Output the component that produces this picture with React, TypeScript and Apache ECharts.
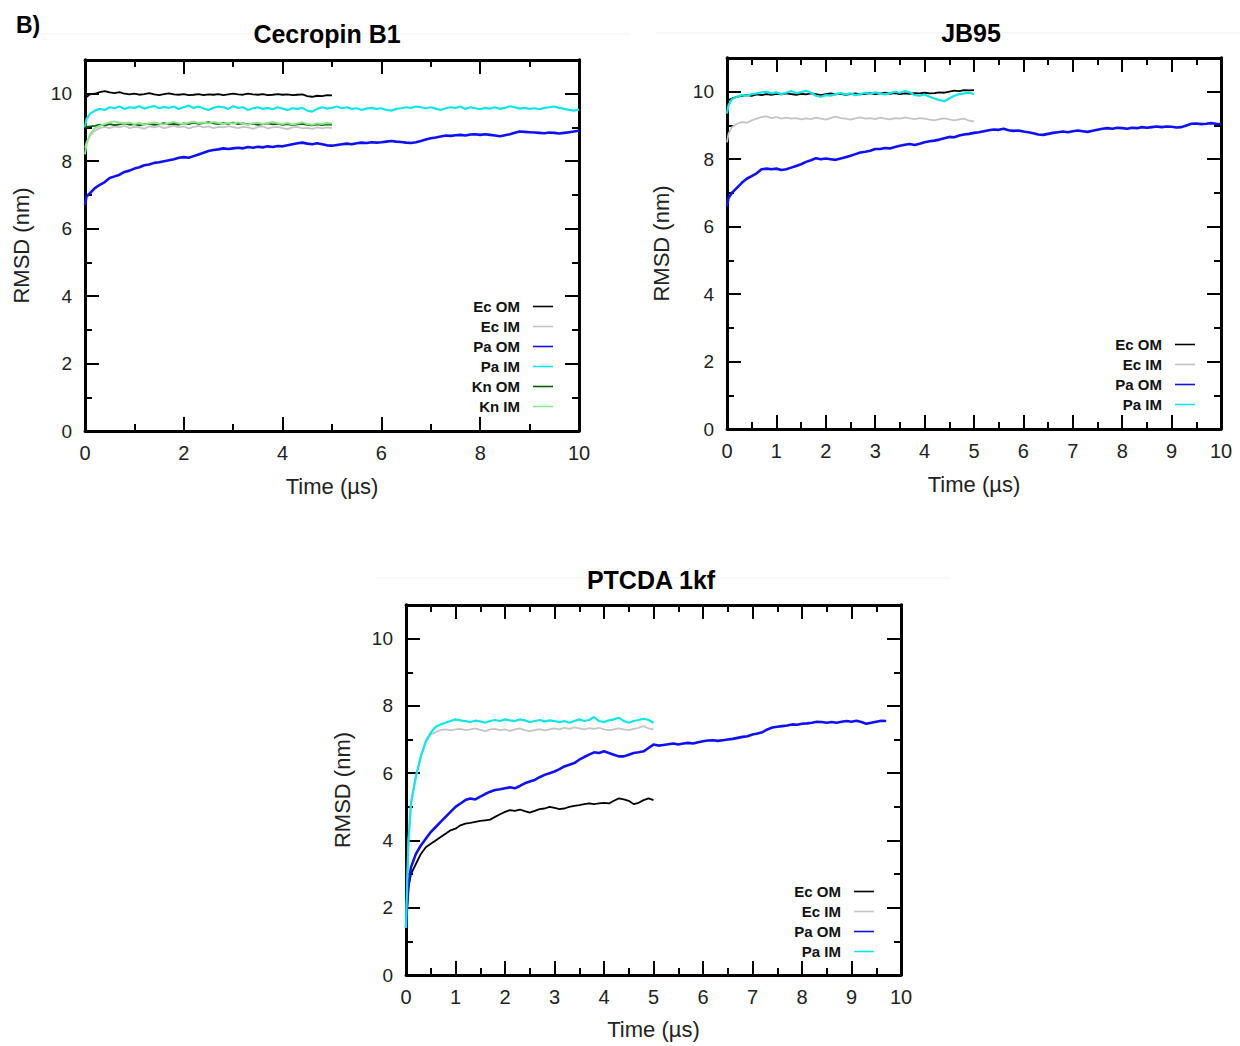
import React, { useEffect, useRef } from 'react';
import * as echarts from 'echarts';

const FONT = '"Liberation Sans", Arial, Helvetica, sans-serif';
const STEP = 0.1;

const SERIES_NAMES = ['Ec OM', 'Ec IM', 'Pa OM', 'Pa IM', 'Kn OM', 'Kn IM'];
const PANEL_TITLES = ['Cecropin B1', 'JB95', 'PTCDA 1kf'];
const X_AXIS_NAME = 'Time (µs)';
const Y_AXIS_NAME = 'RMSD (nm)';
const X_MAJOR_INTERVAL = [2, 1, 1];

// ---------- Cecropin B1 (values on a 0.1 µs grid from t = 0) ----------
const CEC_EC_OM_EARLY = [[0.03, 9.9]];
const CEC_EC_OM = [
  9.75, 9.98, 10.0, 10.05, 10.08, 10.04, 10.02, 10.05, 10.0, 9.98,
  10.0, 9.97, 9.99, 10.02, 9.98, 9.96, 9.99, 10.01, 9.98, 9.97,
  9.99, 9.96, 9.97, 9.99, 9.96, 9.98, 9.97, 9.99, 9.96, 9.98,
  10.0, 9.98, 9.97, 10.0, 9.98, 9.97, 9.99, 9.96, 9.97, 9.99,
  9.97, 9.98, 9.96, 9.97, 9.98, 9.93, 9.91, 9.94, 9.93, 9.96,
  9.95,
];
const CEC_EC_IM_EARLY = [[0.03, 8.55]];
const CEC_EC_IM = [
  8.4, 8.75, 8.9, 8.98, 9.02, 8.98, 9.03, 9.0, 9.05, 8.98,
  9.02, 9.0, 8.96, 9.03, 9.0, 9.04, 8.98, 9.02, 9.05, 9.0,
  9.03, 8.97, 9.02, 9.05, 9.0, 9.03, 8.98, 9.02, 9.0, 9.04,
  9.01, 8.98, 9.02, 9.0, 8.96, 9.01, 9.03, 8.97, 9.0, 9.02,
  8.98, 8.95, 9.0, 9.02, 8.97, 8.99, 8.96, 9.0, 8.97, 9.0,
  8.98,
];
const CEC_PA_OM_EARLY = [[0.03, 6.95]];
const CEC_PA_OM = [
  6.7, 7.05, 7.2, 7.3, 7.38, 7.5, 7.55, 7.6, 7.68, 7.72,
  7.78, 7.82, 7.88, 7.9, 7.95, 7.97, 8.0, 8.03, 8.06, 8.1,
  8.12, 8.1, 8.15, 8.2, 8.25, 8.3, 8.33, 8.35, 8.38, 8.36,
  8.38, 8.4, 8.38, 8.42, 8.4, 8.43, 8.41, 8.44, 8.42, 8.45,
  8.44, 8.47, 8.5, 8.53, 8.55, 8.52, 8.5, 8.53, 8.5, 8.47,
  8.46, 8.48, 8.5, 8.52, 8.5, 8.53, 8.55, 8.54, 8.56, 8.55,
  8.56, 8.58, 8.6, 8.58, 8.57, 8.55, 8.54, 8.56, 8.6, 8.64,
  8.68, 8.7, 8.73, 8.76, 8.75, 8.77, 8.78, 8.76, 8.79, 8.8,
  8.78, 8.8, 8.78, 8.76, 8.74, 8.77, 8.8, 8.84, 8.88, 8.87,
  8.86, 8.85, 8.84, 8.83, 8.85, 8.84, 8.82, 8.84, 8.86, 8.88,
  8.9,
];
const CEC_PA_IM_EARLY = [[0.03, 9.25]];
const CEC_PA_IM = [
  9.0, 9.4, 9.5, 9.55, 9.52, 9.6, 9.57, 9.62, 9.55, 9.6,
  9.58, 9.63, 9.56, 9.6, 9.64, 9.57, 9.61, 9.58, 9.62, 9.55,
  9.6, 9.65, 9.58, 9.62, 9.56, 9.52, 9.58, 9.62, 9.6, 9.55,
  9.63, 9.58, 9.6, 9.52, 9.57, 9.6, 9.55, 9.58, 9.54, 9.6,
  9.56, 9.52, 9.57, 9.55, 9.58, 9.5, 9.47, 9.55, 9.6, 9.56,
  9.58, 9.62, 9.57, 9.6, 9.55, 9.57, 9.52, 9.56, 9.58, 9.55,
  9.57, 9.52, 9.5, 9.55, 9.57, 9.6, 9.58, 9.62, 9.6, 9.57,
  9.6, 9.56, 9.52, 9.57, 9.6, 9.58, 9.62, 9.55, 9.6, 9.57,
  9.54, 9.58, 9.56, 9.6, 9.55, 9.58, 9.63, 9.6, 9.56, 9.58,
  9.55, 9.57, 9.54, 9.58, 9.6, 9.62, 9.58, 9.55, 9.52, 9.5,
  9.53,
];
const CEC_KN_OM_EARLY = [[0.03, 9.02]];
const CEC_KN_OM = [
  9.0, 9.03, 9.05, 9.08, 9.06, 9.1, 9.07, 9.09, 9.12, 9.08,
  9.1, 9.06, 9.09, 9.11, 9.08, 9.1, 9.13, 9.09, 9.11, 9.08,
  9.12, 9.1, 9.14, 9.11, 9.13, 9.16, 9.12, 9.1, 9.13, 9.11,
  9.14, 9.1, 9.12, 9.09, 9.11, 9.08, 9.1, 9.12, 9.09, 9.11,
  9.08, 9.1, 9.07, 9.09, 9.11, 9.08, 9.06, 9.09, 9.07, 9.09,
  9.08,
];
const CEC_KN_IM_EARLY = [[0.03, 8.5]];
const CEC_KN_IM = [
  8.2, 8.8, 8.98, 9.05, 9.1, 9.15, 9.18, 9.14, 9.12, 9.15,
  9.1, 9.13, 9.08, 9.12, 9.15, 9.11, 9.09, 9.13, 9.16, 9.12,
  9.1, 9.14, 9.17, 9.13, 9.15, 9.12, 9.16, 9.13, 9.1, 9.14,
  9.12, 9.15, 9.11, 9.08, 9.12, 9.14, 9.1, 9.13, 9.16, 9.12,
  9.1, 9.13, 9.09, 9.12, 9.15, 9.1, 9.08, 9.12, 9.1, 9.13,
  9.12,
];

// ---------- JB95 ----------
const JB_EC_OM_EARLY = [[0.03, 9.75]];
const JB_EC_OM = [
  9.65, 9.8, 9.85, 9.88, 9.9, 9.88, 9.92, 9.9, 9.93, 9.91,
  9.94, 9.92, 9.95, 9.93, 9.91, 9.94, 9.92, 9.95, 9.93, 9.9,
  9.93, 9.95, 9.92, 9.94, 9.91, 9.93, 9.95, 9.92, 9.94, 9.96,
  9.93, 9.95, 9.97, 9.94, 9.96, 9.93, 9.95, 9.94, 9.96, 9.95,
  9.97, 9.95, 9.96, 9.98, 9.97, 10.0, 10.03, 10.02, 10.05, 10.04,
  10.05,
];
const JB_EC_IM_EARLY = [[0.03, 8.75]];
const JB_EC_IM = [
  8.5, 8.95, 9.05, 9.1, 9.08, 9.15, 9.2, 9.25, 9.27, 9.22,
  9.25, 9.2, 9.23, 9.2, 9.22, 9.18, 9.21, 9.19, 9.23, 9.2,
  9.17, 9.22, 9.26, 9.22, 9.2, 9.17, 9.21, 9.24, 9.2, 9.22,
  9.19, 9.23, 9.2, 9.18, 9.22, 9.2, 9.24, 9.21, 9.19, 9.22,
  9.2, 9.17, 9.15, 9.19, 9.21, 9.18, 9.15, 9.18, 9.2, 9.14,
  9.12,
];
const JB_PA_OM_EARLY = [[0.03, 6.85]];
const JB_PA_OM = [
  6.6, 7.0, 7.15, 7.3, 7.42, 7.5, 7.58, 7.7, 7.72, 7.7,
  7.72, 7.68, 7.7, 7.75, 7.8, 7.85, 7.92, 7.97, 8.03, 8.0,
  8.02, 8.0, 7.98, 8.02, 8.06, 8.1, 8.15, 8.2, 8.22, 8.25,
  8.3, 8.3, 8.33, 8.32, 8.36, 8.4, 8.43, 8.45, 8.42, 8.46,
  8.5, 8.53, 8.55, 8.58, 8.62, 8.66, 8.65, 8.7, 8.73, 8.75,
  8.78, 8.8, 8.83, 8.86, 8.88, 8.87, 8.9, 8.86, 8.84, 8.85,
  8.82, 8.8, 8.77, 8.73, 8.72, 8.75, 8.78, 8.8, 8.82, 8.8,
  8.83, 8.85, 8.83, 8.81, 8.84, 8.87, 8.9, 8.92, 8.9, 8.93,
  8.92, 8.9, 8.93, 8.92, 8.95, 8.93, 8.95, 8.97, 8.95, 8.97,
  8.96, 8.94, 8.95, 9.0, 9.05, 9.06, 9.04, 9.05, 9.07, 9.05,
  9.04,
];
const JB_PA_IM_EARLY = [[0.03, 9.6]];
const JB_PA_IM = [
  9.35, 9.78, 9.85, 9.9, 9.88, 9.93, 9.95, 9.98, 10.0, 9.95,
  9.98, 9.93, 9.97, 10.02, 9.96, 9.99, 10.03, 9.97, 9.88, 9.85,
  9.9, 9.88, 9.93, 9.96, 9.92, 9.95, 9.9, 9.93, 9.97, 9.94,
  9.98, 9.95, 9.92, 9.96, 10.0, 9.97, 10.02, 9.98, 9.9, 9.88,
  9.92, 9.85, 9.8, 9.75, 9.72, 9.8, 9.88, 9.93, 9.95, 9.97,
  9.93,
];

// ---------- PTCDA 1kf ----------
const PT_EC_OM_EARLY = [[0.02, 2.0], [0.05, 2.6]];
const PT_EC_OM = [
  1.5, 3.0, 3.3, 3.6, 3.8, 3.9, 4.0, 4.1, 4.2, 4.3,
  4.35, 4.45, 4.5, 4.52, 4.55, 4.58, 4.6, 4.62, 4.7, 4.78,
  4.85, 4.9, 4.88, 4.92, 4.87, 4.83, 4.88, 4.93, 4.95, 5.0,
  4.97, 4.93, 4.95, 5.0, 5.03, 5.05, 5.08, 5.1, 5.08, 5.1,
  5.12, 5.1, 5.18, 5.25, 5.22, 5.18, 5.08, 5.12, 5.2, 5.25,
  5.2,
];
const PT_EC_IM_EARLY = [[0.02, 2.5], [0.05, 4.0]];
const PT_EC_IM = [
  1.5, 5.1, 5.9, 6.5, 6.92, 7.15, 7.22, 7.28, 7.3, 7.27,
  7.3, 7.32, 7.28, 7.3, 7.33, 7.29, 7.25, 7.3, 7.32, 7.28,
  7.3, 7.26, 7.3, 7.33, 7.28, 7.25, 7.28, 7.31, 7.27, 7.3,
  7.33, 7.3, 7.35, 7.32, 7.36, 7.33, 7.3, 7.34, 7.32, 7.35,
  7.3, 7.27, 7.3, 7.33, 7.3, 7.28, 7.32, 7.35, 7.4, 7.33,
  7.3,
];
const PT_PA_OM_EARLY = [[0.02, 2.0], [0.05, 2.7]];
const PT_PA_OM = [
  1.4, 3.2, 3.6, 3.85, 4.05, 4.25, 4.4, 4.55, 4.7, 4.85,
  5.0, 5.1, 5.2, 5.25, 5.22, 5.3, 5.38, 5.45, 5.5, 5.52,
  5.55, 5.58, 5.55, 5.62, 5.7, 5.75, 5.8, 5.88, 5.95, 6.0,
  6.05, 6.12, 6.2, 6.25, 6.3, 6.4, 6.48, 6.55, 6.62, 6.6,
  6.65, 6.6, 6.55, 6.5, 6.5, 6.55, 6.6, 6.62, 6.65, 6.75,
  6.85, 6.82, 6.84, 6.86, 6.88, 6.85, 6.88, 6.9, 6.88, 6.92,
  6.95, 6.97, 6.98, 6.96, 6.98, 7.0, 7.02, 7.05, 7.08, 7.1,
  7.15, 7.18, 7.22, 7.3, 7.36, 7.38, 7.4, 7.42, 7.45, 7.44,
  7.47, 7.48, 7.5, 7.53, 7.52, 7.5, 7.52, 7.5, 7.53, 7.55,
  7.53, 7.56, 7.52, 7.47, 7.5, 7.53, 7.56, 7.55,
];
const PT_PA_IM_EARLY = [[0.02, 2.5], [0.05, 4.0]];
const PT_PA_IM = [
  1.4, 5.1, 5.9, 6.5, 6.95, 7.2, 7.38, 7.45, 7.5, 7.55,
  7.6, 7.57, 7.55, 7.52, 7.56, 7.54, 7.5, 7.55, 7.58, 7.55,
  7.6, 7.57, 7.55, 7.6, 7.57, 7.52, 7.55, 7.58, 7.54, 7.57,
  7.55, 7.52, 7.55, 7.5, 7.55, 7.6, 7.55, 7.58, 7.67, 7.55,
  7.52, 7.57, 7.6, 7.65, 7.55, 7.5, 7.55, 7.58, 7.62, 7.58,
  7.5,
];

const COLORS: Record<string, string> = {
  'Ec OM': '#000000',
  'Ec IM': '#c4c4c4',
  'Pa OM': '#1010f5',
  'Pa IM': '#10e6e6',
  'Kn OM': '#0a5c0a',
  'Kn IM': '#8ee68e',
};
const WIDTHS: Record<string, number> = {
  'Ec OM': 1.8, 'Ec IM': 1.8, 'Pa OM': 2.6, 'Pa IM': 2.2, 'Kn OM': 1.8, 'Kn IM': 2,
};

function toPoints(early: number[][], vals: number[]): number[][] {
  const out: number[][] = [[0, vals[0]]];
  early.forEach((p) => out.push(p));
  for (let i = 1; i < vals.length; i++) out.push([Math.round(i * STEP * 100) / 100, vals[i]]);
  return out;
}

const PANELS = [
  {
    grid: { left: 85, top: 60, width: 494, height: 371 },
    titleX: 327, titleY: 34, yNameGap: 53, xNameGap: 44,
    legendRight: 687, legendTop: 299,
    data: [
      [CEC_EC_OM_EARLY, CEC_EC_OM], [CEC_EC_IM_EARLY, CEC_EC_IM], [CEC_PA_OM_EARLY, CEC_PA_OM],
      [CEC_PA_IM_EARLY, CEC_PA_IM], [CEC_KN_OM_EARLY, CEC_KN_OM], [CEC_KN_IM_EARLY, CEC_KN_IM],
    ],
    order: [0, 1, 2, 3, 5, 4],
  },
  {
    grid: { left: 727, top: 58, width: 494, height: 371 },
    titleX: 971, titleY: 33, yNameGap: 55, xNameGap: 44,
    legendRight: 45, legendTop: 337,
    data: [
      [JB_EC_OM_EARLY, JB_EC_OM], [JB_EC_IM_EARLY, JB_EC_IM], [JB_PA_OM_EARLY, JB_PA_OM],
      [JB_PA_IM_EARLY, JB_PA_IM],
    ],
    order: [1, 2, 0, 3],
  },
  {
    grid: { left: 406, top: 605, width: 495, height: 370 },
    titleX: 651, titleY: 580, yNameGap: 53, xNameGap: 43,
    legendRight: 366, legendTop: 884,
    data: [
      [PT_EC_OM_EARLY, PT_EC_OM], [PT_EC_IM_EARLY, PT_EC_IM], [PT_PA_OM_EARLY, PT_PA_OM],
      [PT_PA_IM_EARLY, PT_PA_IM],
    ],
    order: [0, 2, 1, 3],
  },
];

function buildOption() {
  const grid: any[] = [];
  const xAxis: any[] = [];
  const yAxis: any[] = [];
  const series: any[] = [];
  const legend: any[] = [];
  const graphic: any[] = [];
  const lineStyle = { color: '#000', width: 2.8 };
  const tickStyle = { color: '#000', width: 2 };

  PANELS.forEach((p, pi) => {
    grid.push({ ...p.grid, containLabel: false });
    const xBase = {
      gridIndex: pi, type: 'value', min: 0, max: 10, interval: X_MAJOR_INTERVAL[pi],
      axisLine: { show: true, onZero: false, lineStyle },
      axisTick: { show: true, inside: true, length: 14, lineStyle: tickStyle },
      minorTick: { show: true, splitNumber: 2, length: 7, lineStyle: tickStyle },
      splitLine: { show: false }, minorSplitLine: { show: false },
    };
    xAxis.push({
      ...xBase, position: 'bottom',
      axisLabel: { show: true, fontSize: 20, color: '#222', margin: 12, fontFamily: FONT },
      name: X_AXIS_NAME, nameLocation: 'middle', nameGap: p.xNameGap,
      nameTextStyle: { fontSize: 22, color: '#222', fontFamily: FONT },
    });
    xAxis.push({ ...xBase, position: 'top', axisLabel: { show: false } });

    const yBase = {
      gridIndex: pi, type: 'value', min: 0, max: 11,
      axisLine: { show: true, onZero: false, lineStyle },
      splitLine: { show: false },
    };
    yAxis.push({
      ...yBase, position: 'left', interval: 2,
      axisTick: { show: true, inside: true, length: 14, lineStyle: tickStyle },
      axisLabel: { show: true, fontSize: 19, color: '#222', margin: 13, fontFamily: FONT, showMaxLabel: false },
      name: Y_AXIS_NAME, nameLocation: 'middle', nameGap: p.yNameGap,
      nameTextStyle: { fontSize: 22, color: '#222', fontFamily: FONT },
    });
    yAxis.push({
      ...yBase, position: 'left', interval: 1,
      axisTick: { show: true, inside: true, length: 7, lineStyle: tickStyle },
      axisLabel: { show: false },
    });
    yAxis.push({
      ...yBase, position: 'right', interval: 2,
      axisTick: { show: true, inside: true, length: 14, lineStyle: tickStyle },
      axisLabel: { show: false },
    });
    yAxis.push({
      ...yBase, position: 'right', interval: 1,
      axisTick: { show: true, inside: true, length: 7, lineStyle: tickStyle },
      axisLabel: { show: false },
    });

    const names = SERIES_NAMES.slice(0, p.data.length);
    p.order.forEach((si) => {
      const name = names[si];
      const [early, vals] = p.data[si] as [number[][], number[]];
      series.push({
        name, type: 'line', xAxisIndex: pi * 2, yAxisIndex: pi * 4,
        data: toPoints(early, vals), symbol: 'none', showSymbol: false,
        lineStyle: { color: COLORS[name], width: WIDTHS[name] },
        itemStyle: { color: COLORS[name] },
        z: 3 + si, clip: true, silent: true,
      });
    });

    legend.push({
      orient: 'vertical', align: 'right', right: p.legendRight, top: p.legendTop,
      itemWidth: 20, itemHeight: 14, itemGap: 5, padding: 0, selectedMode: false,
      icon: 'path://M0,0H20V1.6H0Z', symbolKeepAspect: true,
      data: names,
      textStyle: { fontSize: 15, fontWeight: 'bold', color: '#111', fontFamily: FONT, padding: [0, 8, 0, 0] },
    });

    graphic.push({
      type: 'text', x: p.titleX, y: p.titleY,
      style: {
        text: PANEL_TITLES[pi], fontSize: 25, fontWeight: 'bold', fontFamily: FONT, fill: '#000',
        textAlign: 'center', textVerticalAlign: 'middle', align: 'center', verticalAlign: 'middle',
      },
    });
  });

  graphic.push({
    type: 'text', x: 16, y: 25,
    style: {
      text: 'B)', fontSize: 23, fontWeight: 'bold', fontFamily: FONT, fill: '#000',
      textAlign: 'left', textVerticalAlign: 'middle', align: 'left', verticalAlign: 'middle',
    },
  });
  graphic.push({ type: 'line', shape: { x1: 30, y1: 34, x2: 630, y2: 34 }, style: { stroke: '#f2f2f2', lineWidth: 1 }, z: -1 });
  graphic.push({ type: 'line', shape: { x1: 655, y1: 33, x2: 1240, y2: 33 }, style: { stroke: '#f2f2f2', lineWidth: 1 }, z: -1 });
  graphic.push({ type: 'line', shape: { x1: 375, y1: 578, x2: 950, y2: 578 }, style: { stroke: '#f2f2f2', lineWidth: 1 }, z: -1 });

  return {
    animation: false,
    backgroundColor: '#ffffff',
    textStyle: { fontFamily: FONT },
    grid, xAxis, yAxis, series, legend, graphic,
  };
}

export default function App() {
  const ref = useRef<HTMLDivElement>(null);
  useEffect(() => {
    if (!ref.current) return;
    const chart = echarts.init(ref.current, undefined, { renderer: 'svg' });
    chart.setOption(buildOption() as any);
    return () => chart.dispose();
  }, []);
  return (
    <div
      ref={ref}
      style={{ position: 'absolute', left: 0, top: 0, width: 1240, height: 1046, background: '#fff' }}
    />
  );
}
